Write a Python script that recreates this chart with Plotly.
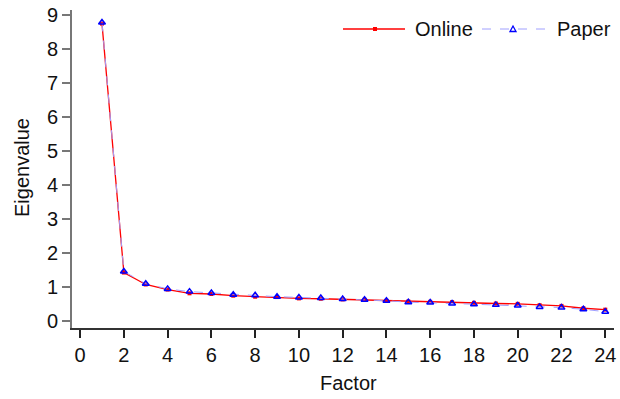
import plotly.graph_objects as go

factors = list(range(1, 25))
online = [8.75, 1.43, 1.08, 0.93, 0.82, 0.80, 0.75, 0.72, 0.71, 0.67, 0.66, 0.64,
          0.63, 0.60, 0.58, 0.57, 0.56, 0.54, 0.52, 0.51, 0.47, 0.45, 0.38, 0.34]
paper = [8.78, 1.46, 1.10, 0.95, 0.87, 0.83, 0.78, 0.76, 0.72, 0.70, 0.68, 0.65,
         0.63, 0.60, 0.56, 0.55, 0.52, 0.50, 0.48, 0.46, 0.42, 0.40, 0.35, 0.28]
x_ticks = list(range(0, 25, 2))
y_ticks = list(range(0, 10))

RED = "#ff0000"
LBLUE = "#a0a0ff"
BLUE = "#0000ff"

W, H = 620, 399
# plot area in window pixels: left 72, right 614, top 10, bottom 328
L, T = 72, 10
R = W - 614
B = H - 328
pw, ph = W - L - R, H - T - B


def px(xw):
    return (xw - L) / pw


def py(yw):
    return (H - B - yw) / ph


fig = go.Figure()
fig.add_trace(go.Scatter(
    x=factors, y=online, name="Online", mode="lines+markers",
    line=dict(color=RED, width=1.3),
    marker=dict(symbol="square", size=4, color=RED),
))
fig.add_trace(go.Scatter(
    x=factors, y=paper, name="Paper", mode="lines+markers",
    line=dict(color=LBLUE, width=1, dash="dash"),
    marker=dict(symbol="triangle-up-open", size=6, color=BLUE, line=dict(width=1.5)),
))

font = "Liberation Sans, Arial, sans-serif"
ly = py(29)
shapes = [
    dict(type="line", xref="paper", yref="paper", x0=px(343), x1=px(405), y0=ly, y1=ly,
         line=dict(color=RED, width=1.3)),
    dict(type="rect", xref="paper", yref="paper", xsizemode="pixel", ysizemode="pixel",
         xanchor=px(375), yanchor=ly, x0=-2, x1=2, y0=-2, y1=2,
         fillcolor=RED, line=dict(width=0)),
    dict(type="line", xref="paper", yref="paper", x0=px(482), x1=px(545), y0=ly, y1=ly,
         line=dict(color=LBLUE, width=1, dash="dash")),
    dict(type="path", xref="paper", yref="paper", xsizemode="pixel", ysizemode="pixel",
         xanchor=px(513), yanchor=ly, path="M -3,-2.5 L 3,-2.5 L 0,3 Z",
         line=dict(color=BLUE, width=1.3)),
]
annotations = [
    dict(text="Online", x=px(413), y=ly, xref="paper", yref="paper", xanchor="left",
         yanchor="middle", showarrow=False, font=dict(size=20, color="#111111")),
    dict(text="Paper", x=px(555), y=ly, xref="paper", yref="paper", xanchor="left",
         yanchor="middle", showarrow=False, font=dict(size=20, color="#111111")),
    dict(text="Factor", x=px(348), y=py(383), xref="paper", yref="paper", xanchor="center",
         yanchor="middle", showarrow=False, font=dict(size=20, color="#111111")),
    dict(text="Eigenvalue", x=px(22), y=py(168), xref="paper", yref="paper", xanchor="center",
         yanchor="middle", showarrow=False, textangle=-90, font=dict(size=20, color="#111111")),
]

fig.update_layout(
    width=W, height=H,
    margin=dict(l=L, r=R, t=T, b=B, pad=0),
    paper_bgcolor="white", plot_bgcolor="white",
    font=dict(family=font, size=20, color="#111111"),
    showlegend=False,
    hovermode=False,
    shapes=shapes,
    annotations=annotations,
    xaxis=dict(range=[-0.37, 24.4], tickvals=x_ticks, showgrid=False, zeroline=False,
               automargin=False, tickfont=dict(size=20), ticklabeloverflow="allow",
               showline=True, linecolor="#333333", linewidth=2,
               ticks="outside", ticklen=8, tickwidth=1.5, tickcolor="#222222"),
    yaxis=dict(range=[-0.2, 9.15], tickvals=y_ticks, showgrid=False, zeroline=False,
               automargin=False, tickfont=dict(size=20), ticklabeloverflow="allow",
               showline=True, linecolor="#777777", linewidth=2,
               ticks="outside", ticklen=8, tickwidth=1.5, tickcolor="#777777"),
)
fig.write_html("out.html", config={"displayModeBar": False},
               post_script="document.body.style.margin='0';")
